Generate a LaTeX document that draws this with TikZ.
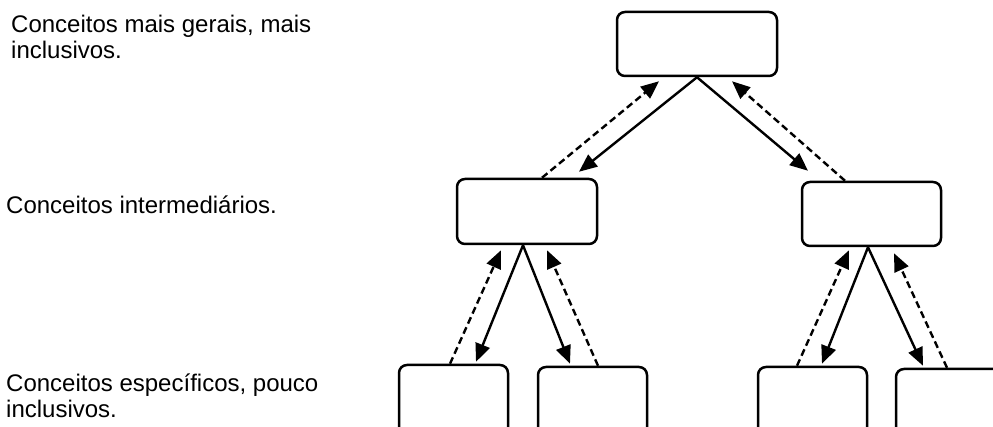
\documentclass[tikz,border=0pt]{standalone}
\usepackage{fontspec}
\setmainfont{Liberation Sans}
\usetikzlibrary{arrows.meta}
\begin{document}
\begin{tikzpicture}[x=1pt,y=-1pt,
  cbox/.style={draw, line width=2.5pt, rounded corners=8pt, inner sep=0pt, fill=white},
  label/.style={anchor=base west, inner sep=0pt, font=\fontsize{24}{27}\selectfont},
  solidarr/.style={line width=2.4pt, -{Triangle[length=18pt,width=15pt]}},
  dasharr/.style={line width=2.4pt, dash pattern=on 7pt off 4pt, -{Triangle[length=18pt,width=15pt]}}
]
\useasboundingbox (0,0) rectangle (993,427);
\clip (0,0) rectangle (993,427);
\fill[white] (0,0) rectangle (993,427);

% labels
\node[label] (l1a) at (11,32.5) {Conceitos mais gerais, mais};
\node[label] (l1b) at (11,58.5) {inclusivos.};
\node[label] (l2) at (6,214) {Conceitos intermediários.};
\node[label] (l3a) at (6,391.5) {Conceitos específicos, pouco};
\node[label] (l3b) at (6,417.5) {inclusivos.};

% boxes
\node[cbox, minimum width=160pt, minimum height=64pt] (top) at (697,44) {};
\node[cbox, minimum width=140pt, minimum height=65pt] (ml) at (527,211.5) {};
\node[cbox, minimum width=139pt, minimum height=64pt] (mr) at (871.5,214) {};
\node[cbox, minimum width=109pt, minimum height=75pt] (b1) at (453.5,402.5) {};
\node[cbox, minimum width=109pt, minimum height=75pt] (b2) at (592.5,404.5) {};
\node[cbox, minimum width=109pt, minimum height=75pt] (b3) at (812.5,404.5) {};
\node[cbox, minimum width=109pt, minimum height=75pt] (b4) at (950.5,406.5) {};

% top level
\draw[solidarr] (top.south) -- ([shift={(52,-6)}]ml.north);
\draw[dasharr] ([shift={(15,0)}]ml.north) -- ([shift={(-38,4)}]top.south);
\draw[solidarr] (top.south) -- ([shift={(-63.5,-10)}]mr.north);
\draw[dasharr] ([shift={(-26.5,0)}]mr.north) -- ([shift={(35,4)}]top.south);

% middle left
\draw[solidarr] ([shift={(-4,0)}]ml.south) -- ([shift={(22.5,-2)}]b1.north);
\draw[solidarr] ([shift={(-4,0)}]ml.south) -- ([shift={(-22.5,-2)}]b2.north);
\draw[dasharr] ([shift={(-3.5,0)}]b1.north) -- ([shift={(-26,5)}]ml.south);
\draw[dasharr] ([shift={(5.5,0)}]b2.north) -- ([shift={(20,5)}]ml.south);

% middle right
\draw[solidarr] ([shift={(-3.5,0)}]mr.south) -- ([shift={(9.5,-2)}]b3.north);
\draw[solidarr] ([shift={(-3.5,0)}]mr.south) -- ([shift={(-27.5,-2)}]b4.north);
\draw[dasharr] ([shift={(-15.5,0)}]b3.north) -- ([shift={(-22.5,3)}]mr.south);
\draw[dasharr] ([shift={(-3.5,0)}]b4.north) -- ([shift={(22.5,6)}]mr.south);
\end{tikzpicture}
\end{document}
